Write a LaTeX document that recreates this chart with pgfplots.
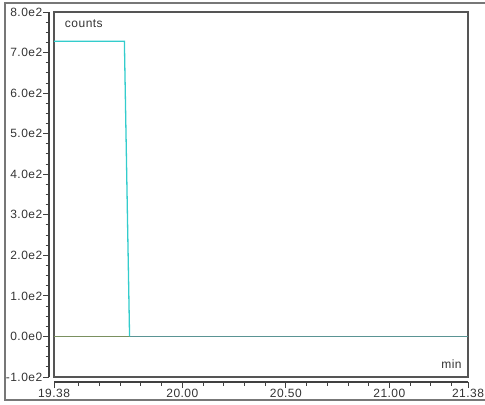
\documentclass[border=0pt]{standalone}
\usepackage{pgfplots}
\pgfplotsset{compat=1.18}
\usepackage{fontspec}
\setmainfont{Liberation Sans}[LetterSpace=4]
\definecolor{txt}{HTML}{333333}
\definecolor{frm}{HTML}{555555}
\definecolor{pulse}{HTML}{33CCCC}
\definecolor{base}{HTML}{5A9494}
\definecolor{olive}{HTML}{7A9060}
\begin{document}
\begin{tikzpicture}[x=1bp,y=1bp]
\useasboundingbox (0,0) rectangle (485,404);
\draw[color=frm!80, line width=1.3bp] (485,401) -- (5,401) -- (5,4) -- (485,4);
\begin{axis}[
  at={(54bp,27bp)}, anchor=south west,
  scale only axis, width=414bp, height=365bp,
  xmin=19.38, xmax=21.38, ymin=-100, ymax=800,
  axis line style={color=frm, line width=1.2bp},
  xtick=\empty, ytick=\empty,
  clip=true,
]
\addplot[olive, line width=1.3bp] coordinates {(19.38,0) (21.38,0)};
\addplot[base, line width=1.3bp] coordinates {(19.745,0) (21.38,0)};
\addplot[pulse, line width=1.3bp] coordinates {(19.38,728) (19.72,728) (19.745,0)};
\node[anchor=base west, font=\fontsize{12bp}{14bp}\selectfont, text=txt] at (rel axis cs:0.018,0) [yshift=349bp] {counts};
\node[anchor=base east, font=\fontsize{12bp}{14bp}\selectfont, text=txt] at (rel axis cs:0.993,0) [yshift=9bp] {min};
\end{axis}
\begin{axis}[
  at={(54bp,27bp)}, anchor=south west,
  scale only axis, width=414bp, height=365bp,
  xmin=19.38, xmax=21.38, ymin=-100, ymax=800,
  axis x line=bottom, axis y line=left,
  axis x line shift=5bp, axis y line shift=5bp,
  axis line style={-, color=black!75, line width=1.2bp},
  tick align=outside,
  tick style={color=black!75, line width=0.9bp},
  major tick length=6bp, minor tick length=3.5bp,
  xtick={19.38,20,20.5,21,21.38},
  xticklabels={19.38,20.00,20.50,21.00,21.38},
  minor xtick={19.5,19.6,19.7,19.8,19.9,20.1,20.2,20.3,20.4,20.6,20.7,20.8,20.9,21.1,21.2,21.3},
  ytick={-100,0,100,200,300,400,500,600,700,800},
  yticklabels={-1.0e2,0.0e0,1.0e2,2.0e2,3.0e2,4.0e2,5.0e2,6.0e2,7.0e2,8.0e2},
  minor y tick num=3,
  ticklabel style={font=\fontsize{12bp}{14bp}\selectfont, text=txt},
  xticklabel style={inner sep=0.5bp},
  yticklabel style={inner sep=0.5bp},
]
\end{axis}
\end{tikzpicture}
\end{document}
